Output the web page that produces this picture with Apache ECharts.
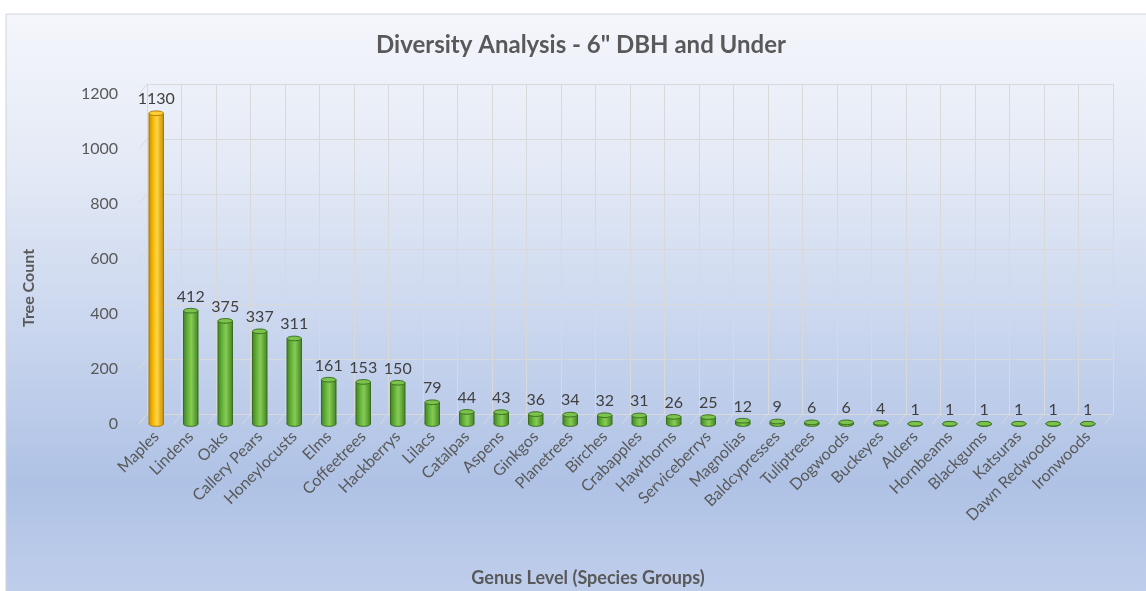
<!DOCTYPE html>
<html>
<head>
<meta charset="utf-8">
<script src="https://cdn.jsdelivr.net/npm/echarts@6/dist/echarts.min.js"></script>
<style>
  html, body { margin: 0; padding: 0; background: #ffffff; }
  #chart { width: 1146px; height: 591px; }
</style>
</head>
<body>
<div id="chart"></div>
<script>
// Tree counts per genus, trees 6" DBH and under
const genera = [
  'Maples', 'Lindens', 'Oaks', 'Callery Pears', 'Honeylocusts', 'Elms',
  'Coffeetrees', 'Hackberrys', 'Lilacs', 'Catalpas', 'Aspens', 'Ginkgos',
  'Planetrees', 'Birches', 'Crabapples', 'Hawthorns', 'Serviceberrys',
  'Magnolias', 'Baldcypresses', 'Tuliptrees', 'Dogwoods', 'Buckeyes',
  'Alders', 'Hornbeams', 'Blackgums', 'Katsuras', 'Dawn Redwoods', 'Ironwoods'
];
const treeCounts = [
  1130, 412, 375, 337, 311, 161,
  153, 150, 79, 44, 43, 36,
  34, 32, 31, 26, 25,
  12, 9, 6, 6, 4,
  1, 1, 1, 1, 1, 1
];
const countTicks = [0, 200, 400, 600, 800, 1000, 1200];
const highlightGenus = 'Maples';

const FONT = 'Lato, "Open Sans", sans-serif';
const TEXT_GREY = '#595959';
const GRID_LINE = '#D9D9D9';

// depth offset of the back wall (3D look)
const DEPTH_X = 8;
const DEPTH_Y = 10;

const palettes = {
  gold:  { dark: '#C98F00', mid: '#FFC20E', light: '#FFD54A', cap: '#FFCF33', edge: '#B07A00' },
  green: { dark: '#438526', mid: '#6DBA3F', light: '#86CB55', cap: '#7CC24E', edge: '#3A6E1E' }
};

function cylinder(params, api) {
  const idx = api.value(0);
  const val = api.value(1);
  const top = api.coord([idx, val]);
  const base = api.coord([idx, 0]);
  const w = api.size([1, 0])[0] * 0.42;
  const rx = w / 2;
  const ry = rx * 0.32;
  const cx = base[0];
  const p = genera[idx] === highlightGenus ? palettes.gold : palettes.green;
  const body = new echarts.graphic.LinearGradient(0, 0, 1, 0, [
    { offset: 0, color: p.dark },
    { offset: 0.35, color: p.mid },
    { offset: 0.55, color: p.light },
    { offset: 1, color: p.dark }
  ]);
  const h = base[1] - top[1];
  return {
    type: 'group',
    children: [
      { type: 'ellipse', shape: { cx: cx, cy: base[1], rx: rx, ry: ry },
        style: { fill: body, stroke: p.edge, lineWidth: 1 } },
      { type: 'rect', shape: { x: cx - rx, y: top[1], width: w, height: h },
        style: { fill: body } },
      { type: 'line', shape: { x1: cx - rx, y1: top[1], x2: cx - rx, y2: base[1] },
        style: { stroke: p.edge, lineWidth: 1 } },
      { type: 'line', shape: { x1: cx + rx, y1: top[1], x2: cx + rx, y2: base[1] },
        style: { stroke: p.edge, lineWidth: 1 } },
      { type: 'ellipse', shape: { cx: cx, cy: top[1], rx: rx, ry: ry },
        style: { fill: p.cap, stroke: p.edge, lineWidth: 1 } },
      { type: 'text', x: cx, y: top[1] - ry - 4,
        style: { text: String(val), align: 'center', verticalAlign: 'bottom',
                 fontFamily: FONT, fontSize: 16, fill: '#404040' } }
    ]
  };
}

// slanted floor lines at every category boundary
function floorLines(params, api) {
  const idx = api.value(0);
  const base = api.coord([idx, 0]);
  const half = api.size([1, 0])[0] / 2;
  const xs = [base[0] - half];
  if (idx === genera.length - 1) xs.push(base[0] + half);
  return {
    type: 'group',
    children: xs.map(function (x) {
      return { type: 'line', shape: { x1: x, y1: base[1], x2: x + DEPTH_X, y2: base[1] - DEPTH_Y },
               style: { stroke: GRID_LINE, lineWidth: 1 } };
    })
  };
}

// slanted side-wall lines at every count tick
function sideWallLines(params, api) {
  const t = api.value(1);
  const pt = api.coord([0, t]);
  const left = pt[0] - api.size([1, 0])[0] / 2;
  return {
    type: 'line',
    shape: { x1: left, y1: pt[1], x2: left + DEPTH_X, y2: pt[1] - DEPTH_Y },
    style: { stroke: GRID_LINE, lineWidth: 1 }
  };
}

const frontGrid = { left: 139, top: 94, width: 966, height: 330 };
const backGrid = {
  left: frontGrid.left + DEPTH_X, top: frontGrid.top - DEPTH_Y,
  width: frontGrid.width, height: frontGrid.height
};

const chart = echarts.init(document.getElementById('chart'));
chart.setOption({
  backgroundColor: '#ffffff',
  animation: false,
  graphic: [
    {
      type: 'rect', z: -10, silent: true,
      shape: { x: 6, y: 14, width: 1160, height: 600 },
      style: {
        fill: new echarts.graphic.LinearGradient(0, 0, 0, 1, [
          { offset: 0, color: '#F4F6FB' },
          { offset: 0.25, color: '#E4EAF6' },
          { offset: 0.5, color: '#CCD8EF' },
          { offset: 0.78, color: '#AFC2E5' },
          { offset: 1, color: '#C2D0EC' }
        ]),
        stroke: '#CFD3DA', lineWidth: 1
      }
    },
    {
      type: 'text', x: 581, y: 45, silent: true,
      style: { text: 'Diversity Analysis - 6" DBH and Under', align: 'center', verticalAlign: 'middle',
               fontFamily: FONT, fontSize: 24, fontWeight: 'bold', fill: TEXT_GREY }
    },
    {
      type: 'text', x: 29, y: 288, rotation: Math.PI / 2, silent: true,
      style: { text: 'Tree Count', align: 'center', verticalAlign: 'middle',
               fontFamily: FONT, fontSize: 16, fontWeight: 'bold', fill: TEXT_GREY }
    },
    {
      type: 'text', x: 588, y: 578, silent: true,
      style: { text: 'Genus Level (Species Groups)', align: 'center', verticalAlign: 'middle',
               fontFamily: FONT, fontSize: 18, fontWeight: 'bold', fill: TEXT_GREY }
    }
  ],
  grid: [
    Object.assign({ containLabel: false }, frontGrid),
    Object.assign({ containLabel: false }, backGrid)
  ],
  xAxis: [
    {
      type: 'category', gridIndex: 0, data: genera,
      axisLine: { show: false }, axisTick: { show: false }, splitLine: { show: false },
      axisLabel: { rotate: 45, margin: 10, interval: 0, color: TEXT_GREY,
                   fontFamily: FONT, fontSize: 16 }
    },
    {
      type: 'category', gridIndex: 1, data: genera,
      axisLine: { show: false }, axisTick: { show: false }, axisLabel: { show: false },
      splitLine: { show: true, interval: 0, lineStyle: { color: GRID_LINE, width: 1 } }
    }
  ],
  yAxis: [
    {
      type: 'value', gridIndex: 0, min: 0, max: 1200, interval: 200,
      axisLine: { show: false }, axisTick: { show: false }, splitLine: { show: false },
      axisLabel: { margin: 21, color: TEXT_GREY, fontFamily: FONT, fontSize: 16,
                   formatter: function (v) { return String(v); } }
    },
    {
      type: 'value', gridIndex: 1, min: 0, max: 1200, interval: 200,
      axisLine: { show: true, lineStyle: { color: GRID_LINE } },
      axisTick: { show: false }, axisLabel: { show: false },
      splitLine: { show: true, lineStyle: { color: GRID_LINE, width: 1 } }
    }
  ],
  series: [
    {
      type: 'custom', name: 'wall', xAxisIndex: 0, yAxisIndex: 0, silent: true, z: 1,
      renderItem: sideWallLines, clip: false,
      data: countTicks.map(function (t) { return [0, t]; })
    },
    {
      type: 'custom', name: 'floor', xAxisIndex: 0, yAxisIndex: 0, silent: true, z: 1,
      renderItem: floorLines, clip: false,
      data: genera.map(function (g, i) { return [i, 0]; })
    },
    {
      type: 'custom', name: 'Tree Count', xAxisIndex: 0, yAxisIndex: 0, z: 3,
      renderItem: cylinder, clip: false,
      encode: { x: 0, y: 1 },
      data: treeCounts.map(function (v, i) { return [i, v]; })
    }
  ]
});
</script>
</body>
</html>
